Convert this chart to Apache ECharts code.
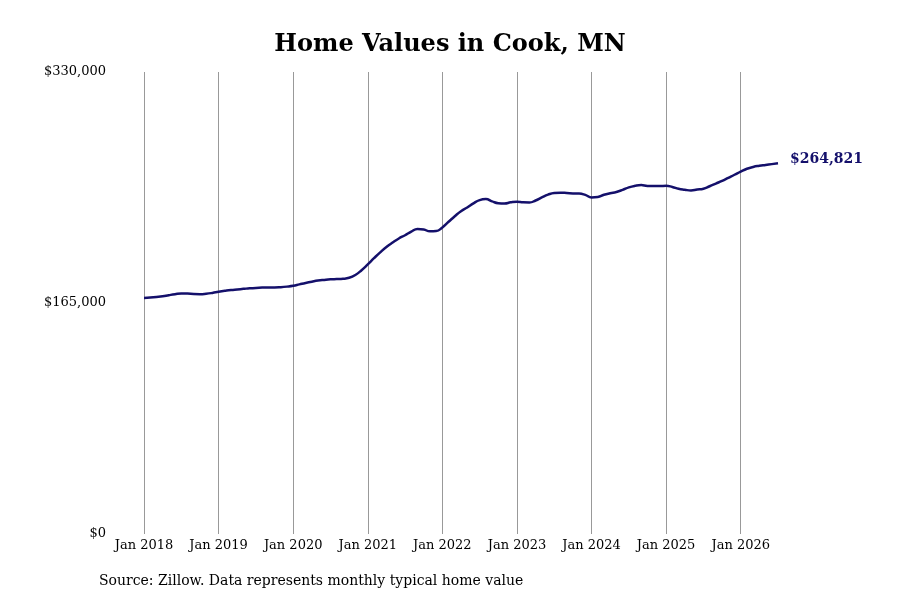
<!DOCTYPE html>
<html><head><meta charset="utf-8">
<script src="https://cdn.jsdelivr.net/npm/echarts@6/dist/echarts.min.js"></script>
<style>html,body{margin:0;padding:0;background:#fff}#c{width:900px;height:600px}</style>
</head><body><div id="c"></div>
<script>
const years = [2018,2019,2020,2021,2022,2023,2024,2025,2026];
const monthNames = ['Jan','Feb','Mar','Apr','May','Jun','Jul','Aug','Sep','Oct','Nov','Dec'];
const valuesK = [
168.6,168.9,169.3,169.8,170.6,171.3,171.8,171.7,171.4,171.3,171.6,172.2,
173.0,173.7,174.3,174.7,175.1,175.5,175.8,176.0,176.1,176.1,176.3,176.7,
177.3,178.3,179.3,180.2,181.0,181.5,181.9,182.1,182.3,183.0,185.0,188.4,
192.6,197.0,201.2,205.0,208.2,211.1,213.4,216.0,217.9,217.5,216.2,216.4,
219.0,223.0,227.0,230.6,233.2,236.2,238.5,239.2,237.6,236.3,236.1,236.9,
237.3,236.9,236.8,238.2,240.4,242.4,243.6,243.8,243.6,243.3,243.2,242.2,
240.4,240.7,242.3,243.4,244.3,245.8,247.6,248.7,249.2,248.6,248.6,248.6,
248.7,247.9,246.6,245.9,245.4,246.0,246.6,248.4,250.3,252.2,254.4,256.6,
258.9,260.9,262.2,263.0,263.6,264.2,264.821];
const categories = [];
for (const y of years) for (const m of monthNames) if (categories.length < valuesK.length) categories.push(m + ' ' + y);
const values = valuesK.map(v => Math.round(v*1000));
const font = 'DejaVu Serif';
const chart = echarts.init(document.getElementById('c'));
const isJan = (i, v) => v.startsWith('Jan');
chart.setOption({
  animation:false,
  title:{text:'Home Values in Cook, MN',left:'center',top:28,textStyle:{fontFamily:font,fontWeight:'bold',fontSize:24,color:'#000'}},
  graphic:[{type:'text',left:99,top:574,style:{text:'Source: Zillow. Data represents monthly typical home value',font:'14px "DejaVu Serif"',fill:'#000'}}],
  grid:{left:144,right:122,top:72,bottom:66},
  xAxis:{type:'category',data:categories,boundaryGap:false,
    axisLine:{show:false},axisTick:{show:false},
    axisLabel:{interval:isJan,fontFamily:font,fontSize:13,color:'#000',margin:5},
    splitLine:{show:true,interval:isJan,lineStyle:{color:'#999',width:1}}},
  yAxis:{type:'value',min:0,max:330000,interval:165000,
    axisLine:{show:false},axisTick:{show:false},splitLine:{show:false},
    axisLabel:{fontFamily:font,fontSize:13,color:'#000',margin:38,verticalAlign:'middle',
      formatter:v=>'$'+v.toLocaleString('en-US')}},
  series:[{type:'line',data:values,smooth:true,symbol:'none',
    lineStyle:{color:'#14106b',width:2.5},
    endLabel:{show:true,offset:[0,-4],formatter:p=>'$'+p.value.toLocaleString('en-US'),fontFamily:font,fontWeight:'bold',fontSize:14,color:'#14106b',distance:12}}]
});
</script></body></html>
